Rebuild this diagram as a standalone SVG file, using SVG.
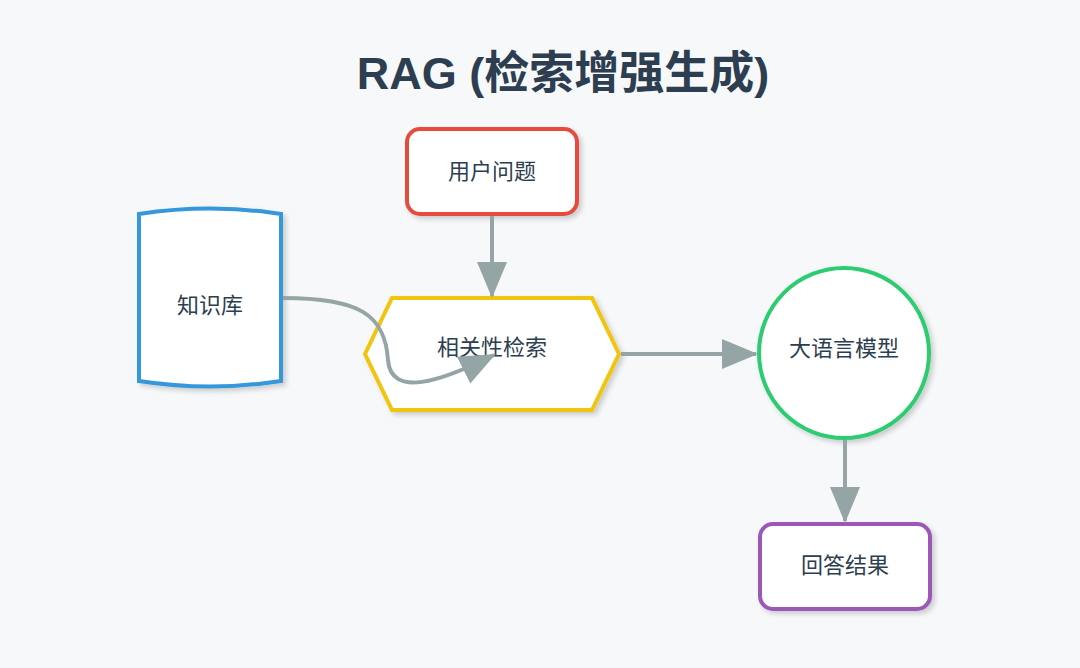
<svg xmlns="http://www.w3.org/2000/svg" width="1080" height="668" viewBox="0 0 1080 668">
  <style>
    .lbl { font-family: "Noto Sans CJK SC", "Noto Sans", sans-serif; font-size: 22px; fill: #2c3e50; text-anchor: middle; dominant-baseline: central; }
    .title { font-family: "Liberation Sans", "Noto Sans CJK SC", sans-serif; font-size: 45px; font-weight: bold; fill: #2c3e50; text-anchor: middle; }
    .node { fill: #ffffff; stroke-width: 4; filter: url(#sh); }
    .edge { fill: none; stroke: #95a5a6; stroke-width: 4; }
  </style>
  <defs>
    <filter id="sh" x="-20%" y="-20%" width="140%" height="140%">
      <feDropShadow dx="3" dy="3" stdDeviation="2.5" flood-color="#000000" flood-opacity="0.18"/>
    </filter>
    <marker id="arr" markerUnits="userSpaceOnUse" markerWidth="38" markerHeight="32" refX="34" refY="15" orient="auto">
      <path d="M0,0 L36,15 L0,30 Z" fill="#95a5a6"/>
    </marker>
  </defs>
  <rect x="0" y="0" width="1080" height="668" fill="#f7f8fa"/>
  <text class="title" x="563" y="89">RAG (检索增强生成)</text>

  <g id="user_question">
    <rect class="node" x="407" y="129" width="170" height="85" rx="13" stroke="#e74c3c"/>
    <text class="lbl" x="492" y="169">用户问题</text>
  </g>
  <g id="knowledge_base">
    <path class="node" d="M139,214 Q210,203 281,214 L281,381 Q210,392 139,381 Z" stroke="#3498db"/>
    <text class="lbl" x="210" y="303">知识库</text>
  </g>
  <g id="retrieval">
    <polygon class="node" points="365,354 392,298 592,298 619,354 592,410 392,410" stroke="#f1c40f"/>
    <text class="lbl" x="492" y="345">相关性检索</text>
  </g>
  <g id="llm">
    <circle class="node" cx="844" cy="353" r="85" stroke="#2ecc71"/>
    <text class="lbl" x="844" y="346">大语言模型</text>
  </g>
  <g id="answer">
    <rect class="node" x="760" y="524" width="170" height="85" rx="13" stroke="#9b59b6"/>
    <text class="lbl" x="845" y="563">回答结果</text>
  </g>

  <g id="connectors">
    <path class="edge" d="M492,216 L492,296" marker-end="url(#arr)"/>
    <path class="edge" d="M283,298 C360,298 385,315 388,360 C391,398 440,382 494,355" marker-end="url(#arr)"/>
    <path class="edge" d="M621,354 L756,354" marker-end="url(#arr)"/>
    <path class="edge" d="M845,440 L845,521" marker-end="url(#arr)"/>
  </g>
</svg>
